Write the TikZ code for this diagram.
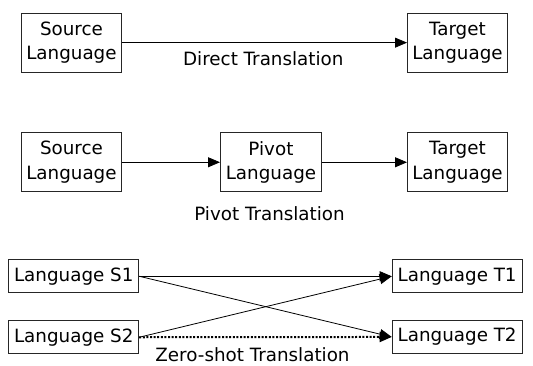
\documentclass[tikz,border=0pt]{standalone}
\usepackage{fontspec}
\setmainfont{DejaVu Sans}
\usetikzlibrary{arrows.meta}
\begin{document}
\begin{tikzpicture}[x=1pt,y=-1pt,
  every node/.style={font=\fontsize{18.3}{24.5}\selectfont, inner sep=0pt},
  langbox/.style={draw=black!85, line width=0.9pt, align=center, anchor=north west},
  conn/.style={line width=0.8pt, -{Triangle[length=12pt,width=10pt]}},
  zeroshot/.style={line width=2pt, dash pattern=on 2pt off 1.6pt, -{Triangle[length=12pt,width=10pt]}},
  caption/.style={anchor=base}]
\useasboundingbox (0,0) rectangle (533,365);
% direct translation
\node[langbox, minimum width=100pt, minimum height=59pt] (src1) at (21,12.7) {Source\\Language};
\node[langbox, minimum width=100pt, minimum height=59pt] (tgt1) at (407,12.7) {Target\\Language};
\draw[conn] (src1) -- (tgt1);
\node[caption] (lab1) at (263.3,65) {Direct Translation};
% pivot translation
\node[langbox, minimum width=100pt, minimum height=59pt] (src2) at (21,132.3) {Source\\Language};
\node[langbox, minimum width=101pt, minimum height=59pt] (piv) at (220,132.3) {Pivot\\Language};
\node[langbox, minimum width=100pt, minimum height=59pt] (tgt2) at (407,132.3) {Target\\Language};
\draw[conn] (src2) -- (piv);
\draw[conn] (piv) -- (tgt2);
\node[caption] (lab2) at (269.5,220.7) {Pivot Translation};
% zero-shot translation
\node[langbox, minimum width=130pt, minimum height=33pt] (s1) at (8.3,259.3) {Language S1};
\node[langbox, minimum width=130pt, minimum height=33pt] (s2) at (8.3,320.3) {Language S2};
\node[langbox, minimum width=130pt, minimum height=33pt] (t1) at (391.7,259.3) {Language T1};
\node[langbox, minimum width=130pt, minimum height=33pt] (t2) at (391.7,320) {Language T2};
\draw[conn] (s1.east) -- (t1.west);
\draw[conn] (s1.east) -- (t2.west);
\draw[conn] (s2.east) -- (t1.west);
\draw[zeroshot] (s2.east) -- (t2.west);
\node[caption] (lab3) at (252.5,361.5) {Zero-shot Translation};
\end{tikzpicture}
\end{document}
